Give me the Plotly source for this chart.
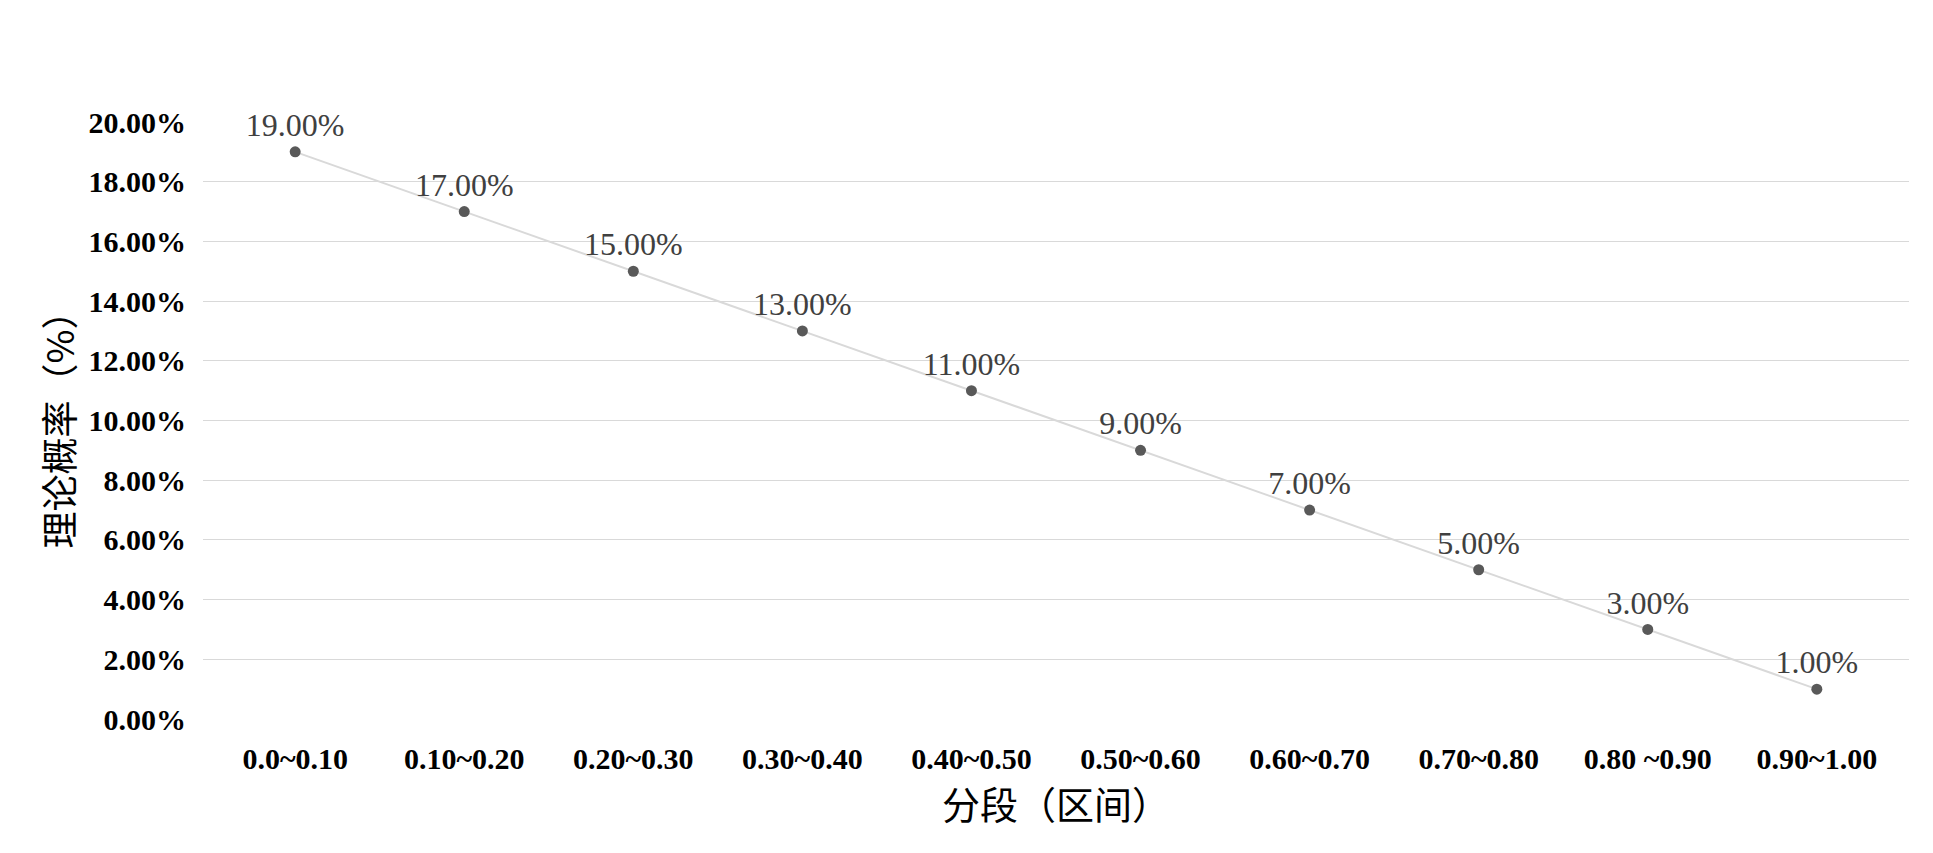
import plotly.graph_objects as go

categories = ["0.0~0.10", "0.10~0.20", "0.20~0.30", "0.30~0.40", "0.40~0.50",
              "0.50~0.60", "0.60~0.70", "0.70~0.80", "0.80 ~0.90", "0.90~1.00"]
probabilities = [0.19, 0.17, 0.15, 0.13, 0.11, 0.09, 0.07, 0.05, 0.03, 0.01]
y_ticks = [0.0, 0.02, 0.04, 0.06, 0.08, 0.10, 0.12, 0.14, 0.16, 0.18, 0.20]

serif = "Liberation Serif"
cjk = "Noto Sans CJK SC"

fig = go.Figure()
fig.add_trace(go.Scatter(
    x=categories, y=probabilities,
    mode="lines+markers+text",
    line=dict(color="#d9d9d9", width=2),
    marker=dict(color="#595959", size=11),
    text=[f"{v*100:.2f}%" for v in probabilities],
    textposition="top center",
    textfont=dict(family=serif, size=32, color="#404040"),
    cliponaxis=False,
    showlegend=False,
))

fig.update_layout(
    width=1933, height=853,
    paper_bgcolor="white", plot_bgcolor="white",
    margin=dict(l=203, r=24, t=122, b=134),
    xaxis=dict(
        type="category",
        automargin=False,
        tickfont=dict(family=serif, size=30, color="#000000", weight="bold"),
        showgrid=False, zeroline=False, showline=False,
        ticks="", ticklabelstandoff=19,
        title=dict(text="分段（区间）", font=dict(family=cjk, size=38, color="#000000"), standoff=16),
    ),
    yaxis=dict(
        range=[0, 0.2],
        automargin=False,
        tickvals=y_ticks,
        tickformat=".2%",
        tickfont=dict(family=serif, size=30, color="#000000", weight="bold"),
        showgrid=True, gridcolor="#d9d9d9", gridwidth=1,
        zeroline=False, showline=False, ticks="",
        ticklabelstandoff=16,
        title=dict(text="理论概率（%）", font=dict(family=cjk, size=37, color="#000000"), standoff=2),
    ),
)

fig.write_html(
    "out.html",
    config={"displayModeBar": False},
    post_script="document.body.style.margin='0';document.body.style.overflow='hidden';",
)
